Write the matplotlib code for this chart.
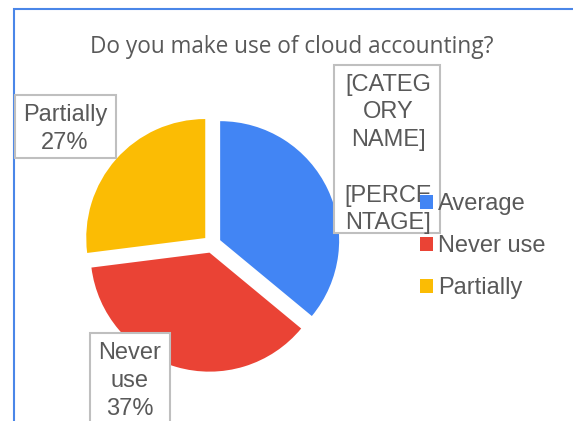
import matplotlib.pyplot as plt
from matplotlib.patches import Rectangle

# data
categories = ["Average", "Never use", "Partially"]
values = [36, 37, 27]
colors = ["#4285F4", "#EA4335", "#FBBC04"]
title = "Do you make use of cloud accounting?"

W, H = 573, 421
fig = plt.figure(figsize=(W / 100, H / 100), dpi=100)
ax = fig.add_axes([0, 0, 1, 1])

wedges, _ = ax.pie(values, colors=colors, startangle=90, counterclock=False,
                   explode=[9] * len(values), center=(212, -244), radius=119)
ax.set_xlim(0, W)
ax.set_ylim(-H, 0)
ax.set_aspect("equal")
ax.axis("off")

# outer chart border (blue, clipped at right / bottom)
ax.add_patch(Rectangle((13.5, -H - 20), W + 20, H + 20 - 8.5, fill=False,
                       edgecolor="#4A86E8", lw=1.5, clip_on=False))

txt = "#595959"
fs = 17
box_kw = dict(fill=True, facecolor="white", edgecolor="#BFBFBF", lw=1.5, zorder=3)
lab_kw = dict(ha="center", va="center", fontsize=fs, color=txt,
              family="Liberation Sans", linespacing=1.34, zorder=4)

# data label boxes (x, y_top, w, h in pixels)
ax.add_patch(Rectangle((15, -158), 101, 63, **box_kw))
ax.text(65, -129, f"{categories[2]}\n{values[2]}%", **lab_kw)

ax.add_patch(Rectangle((334, -233), 106, 168, **box_kw))
ax.text(388, -154, "[CATEG\nORY\nNAME]\n\n[PERCE\nNTAGE]", **lab_kw)

ax.add_patch(Rectangle((90, -440), 80, 107, **box_kw))
ax.text(130, -381, f"Never\nuse\n{values[1]}%", **lab_kw)

fig.text(292 / W, 1 - 53 / H, title, ha="center", va="baseline", fontsize=16.3,
         color=txt, family="Open Sans")

leg = ax.legend(wedges, categories, loc="upper left",
                bbox_to_anchor=(420 / W, 1 - 193 / H), bbox_transform=fig.transFigure,
                frameon=False, handlelength=0.55, handleheight=0.55,
                handletextpad=0.2, labelspacing=0.85, borderpad=0, borderaxespad=0,
                prop={"family": "Liberation Sans", "size": fs})
for t in leg.get_texts():
    t.set_color(txt)
leg.set_zorder(5)

fig.savefig("out.png", dpi=100)
